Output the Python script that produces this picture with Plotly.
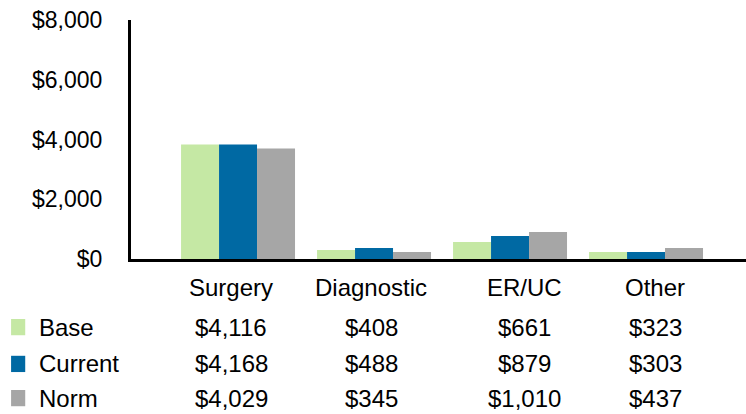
import plotly.graph_objects as go

categories = ["Surgery", "Diagnostic", "ER/UC", "Other"]
series = ["Base", "Current", "Norm"]
colors = ["#C5E8A4", "#0069A3", "#A6A6A6"]

# bar heights as drawn
base = [3830, 300, 570, 235]
current = [3830, 365, 770, 235]
norm = [3700, 235, 900, 365]

# table values printed under the chart
base_lbl = ["$4,116", "$408", "$661", "$323"]
current_lbl = ["$4,168", "$488", "$879", "$303"]
norm_lbl = ["$4,029", "$345", "$1,010", "$437"]

font = dict(family="Liberation Sans, Arial, sans-serif", size=24, color="black")

fig = go.Figure()
for name, vals, c in zip(series, [base, current, norm], colors):
    fig.add_trace(go.Bar(x=categories, y=vals, name=name, marker=dict(color=c, line=dict(width=0))))

fig.update_layout(
    width=746, height=414,
    margin=dict(l=131, r=0, t=20, b=155, autoexpand=False),
    barmode="group", bargap=0.162, bargroupgap=0,
    plot_bgcolor="white", paper_bgcolor="white",
    showlegend=False, font=font,
)
fig.update_xaxes(range=[-0.787, 3.735], showline=True, linecolor="black", linewidth=3,
                 ticks="", showticklabels=False, showgrid=False)
fig.update_yaxes(range=[0, 8000], dtick=2000, tickprefix="$", tickformat=",",
                 tickfont=dict(size=23), showline=True, linecolor="black", linewidth=3,
                 showgrid=False, zeroline=False, ticks="", ticklabelstandoff=21)

# column labels sit a bit off the bar group centres
col_shift = [-7, -3, 14, 9]
for cat, dx in zip(categories, col_shift):
    fig.add_annotation(text=cat, xref="x", yref="paper", x=cat, y=-0.121, xshift=dx,
                       xanchor="center", yanchor="middle", showarrow=False, font=font)

rows = [-0.285, -0.439, -0.582]
for name, lbls, c, ry in zip(series, [base_lbl, current_lbl, norm_lbl], colors, rows):
    fig.add_shape(type="rect", xref="paper", yref="paper",
                  x0=-0.195, x1=-0.172, y0=ry - 0.034, y1=ry + 0.034,
                  fillcolor=c, line=dict(width=0))
    fig.add_annotation(text=name, xref="paper", yref="paper", x=-0.153, y=ry,
                       xanchor="left", yanchor="middle", showarrow=False, font=font)
    for cat, t, dx in zip(categories, lbls, col_shift):
        fig.add_annotation(text=t, xref="x", yref="paper", x=cat, y=ry, xshift=dx,
                           xanchor="center", yanchor="middle", showarrow=False, font=font)

fig.write_html("out.html", config={"displayModeBar": False},
               post_script="document.body.style.margin='0';document.body.style.overflow='hidden';")
